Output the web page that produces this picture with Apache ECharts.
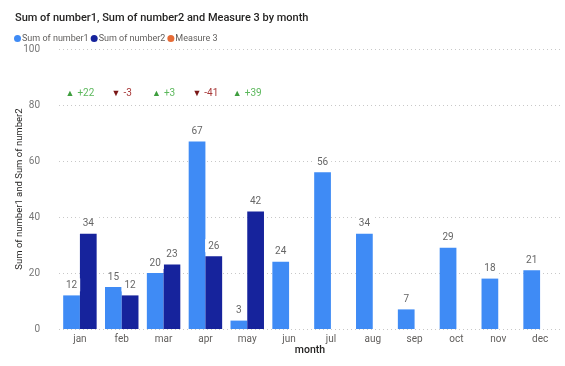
<!DOCTYPE html>
<html><head><meta charset="utf-8">
<script src="https://cdn.jsdelivr.net/npm/echarts@6/dist/echarts.min.js"></script>
<style>html,body{margin:0;padding:0;background:#fff}#c{width:565px;height:366px}</style>
</head><body><div id="c"></div>
<script>
var months = ['jan','feb','mar','apr','may','jun','jul','aug','sep','oct','nov','dec'];
var number1 = [12,15,20,67,3,24,56,34,7,29,18,21];
var number2 = [34,12,23,26,42,null,null,null,null,null,null,null];
var measure3 = [22,-3,3,-41,39,null,null,null,null,null,null,null];
var yTicks = [0,20,40,60,80,100];

var FONT = 'Roboto, "Noto Sans", sans-serif';
var chart = echarts.init(document.getElementById('c'), null, {renderer:'canvas'});
var labelStyle = {show:true, position:'top', distance:4, color:'#666', fontSize:10, fontFamily:FONT,
  backgroundColor:'#fff', padding:[2,3,1,3]};
var LABEL_ROW = 84;
chart.setOption({
  animation:false,
  textStyle:{fontFamily:FONT},
  title:{text:'Sum of number1, Sum of number2 and Measure 3 by month', left:10, top:8,
    textStyle:{fontSize:11, fontWeight:500, color:'#252423', fontFamily:FONT}},
  legend:{left:9, top:29, icon:'circle', itemWidth:7, itemHeight:7, itemGap:2,
    textStyle:{fontSize:9, color:'#605E5C', padding:[0,0,0,-4]},
    data:['Sum of number1','Sum of number2','Measure 3']},
  grid:{left:59, right:4, top:49, bottom:37, outerBoundsMode:'none', containLabel:false},
  xAxis:{type:'category', data:months, axisLine:{show:false}, axisTick:{show:false},
    axisLabel:{color:'#605E5C', fontSize:10, margin:5},
    name:'month', nameLocation:'middle', nameGap:16, nameMoveOverlap:false,
    nameTextStyle:{color:'#252423', fontSize:10.5, fontWeight:500}},
  yAxis:[{type:'value', min:yTicks[0], max:yTicks[yTicks.length-1], interval:20,
    axisLabel:{color:'#777', fontSize:10, margin:19, align:'right', alignMaxLabel:'right', verticalAlignMaxLabel:'middle', hideOverlap:false},
    splitLine:{lineStyle:{type:[1,3], color:'#c8c8c8'}},
    name:'Sum of number1 and Sum of number2', nameLocation:'middle', nameGap:34, nameMoveOverlap:false,
    nameTextStyle:{color:'#252423', fontSize:9.5}}],
  series:[
    {name:'Sum of number1', type:'bar', data:number1, barGap:'0%', barCategoryGap:'20%',
      itemStyle:{color:'#3F8BF5'}, label:labelStyle},
    {name:'Sum of number2', type:'bar', data:number2,
      itemStyle:{color:'#16239C'}, label:labelStyle},
    {name:'Measure 3', type:'custom', itemStyle:{color:'#E66C37'},
      data:measure3.map(function(v,i){return [i,v];}),
      renderItem:function(params, api){
        var v = api.value(1);
        if (v === null || isNaN(v)) return null;
        var p = api.coord([api.value(0), LABEL_ROW]);
        var up = v >= 0;
        return {type:'text', x:p[0], y:p[1], style:{
          text: (up ? '{u|▲}' : '{d|▼}') + ' ' + (up ? '{g|+' + v + '}' : '{r|' + v + '}'),
          align:'center', verticalAlign:'middle', fontFamily:FONT, fill:'#5CB85C',
          backgroundColor:'#fff', padding:[2,3],
          rich:{u:{fill:'#3E9E3E', fontSize:9}, d:{fill:'#7A1616', fontSize:9},
            g:{fill:'#5CB85C', fontSize:10, fontFamily:FONT}, r:{fill:'#A83838', fontSize:10, fontFamily:FONT}}
        }};
      }}
  ]
});
</script></body></html>
